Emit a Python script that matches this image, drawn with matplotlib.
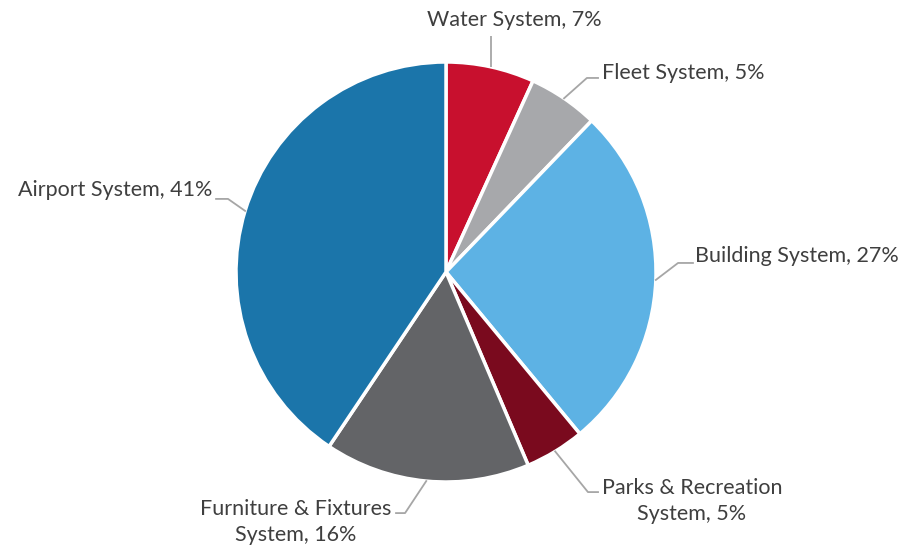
import numpy as np
import matplotlib
matplotlib.use("Agg")
import matplotlib.pyplot as plt

categories = ["Water System", "Fleet System", "Building System", "Parks & Recreation\nSystem",
              "Furniture & Fixtures\nSystem", "Airport System"]
values = [6.8, 5.4, 26.8, 4.6, 15.8, 40.6]
colors = ["#C8102E", "#A7A8AB", "#5DB2E4", "#7A0A1E", "#636467", "#1B75AA"]

plt.rcParams['font.family'] = ['Lato', 'DejaVu Sans']
fig = plt.figure(figsize=(9.06, 5.48), dpi=100)
ax = fig.add_axes([0, 0, 1, 1])

wedges, _ = ax.pie(values, colors=colors, startangle=90, counterclock=False, radius=1,
                   wedgeprops=dict(edgecolor='white', linewidth=2.5))
ax.set_xlim(-446/210, (906-446)/210)
ax.set_ylim(-(548-272)/210, 272/210)
ax.set_aspect('equal')
ax.axis('off')

total = sum(values)
labels = [f"{c}, {round(v/total*100):.0f}%" for c, v in zip(categories, values)]

# label layout: (text x, text y, ha), leader elbow/end points
layout = [
    (0.324, 1.20, 'center', None, None),
    (0.743, 0.948, 'left', (0.671, 0.924), (0.724, 0.924)),
    (1.186, 0.076, 'left', (1.105, 0.043), (1.176, 0.043)),
    (1.171, -1.090, 'center', (0.676, -1.048), (0.724, -1.048)),
    (-0.714, -1.19, 'center', (-0.195, -1.148), (-0.238, -1.148)),
    (-1.114, 0.39, 'right', (-1.038, 0.348), (-1.095, 0.348)),
]
lc = '#A6A6A6'
for w, lab, (tx, ty, ha, elbow, end) in zip(wedges, labels, layout):
    ang = np.deg2rad((w.theta1 + w.theta2) / 2)
    ex, ey = np.cos(ang), np.sin(ang)
    if elbow is None:
        ax.plot([ex, ex], [ey, 1.124], color=lc, lw=1.3, solid_capstyle='butt')
    else:
        ax.plot([ex, elbow[0], end[0]], [ey, elbow[1], end[1]], color=lc, lw=1.3)
    ax.text(tx, ty, lab, ha=ha, va='center', multialignment='center',
            fontsize=15.5, color='#3F3F3F', linespacing=1.35)

fig.savefig("out.png", dpi=100)
